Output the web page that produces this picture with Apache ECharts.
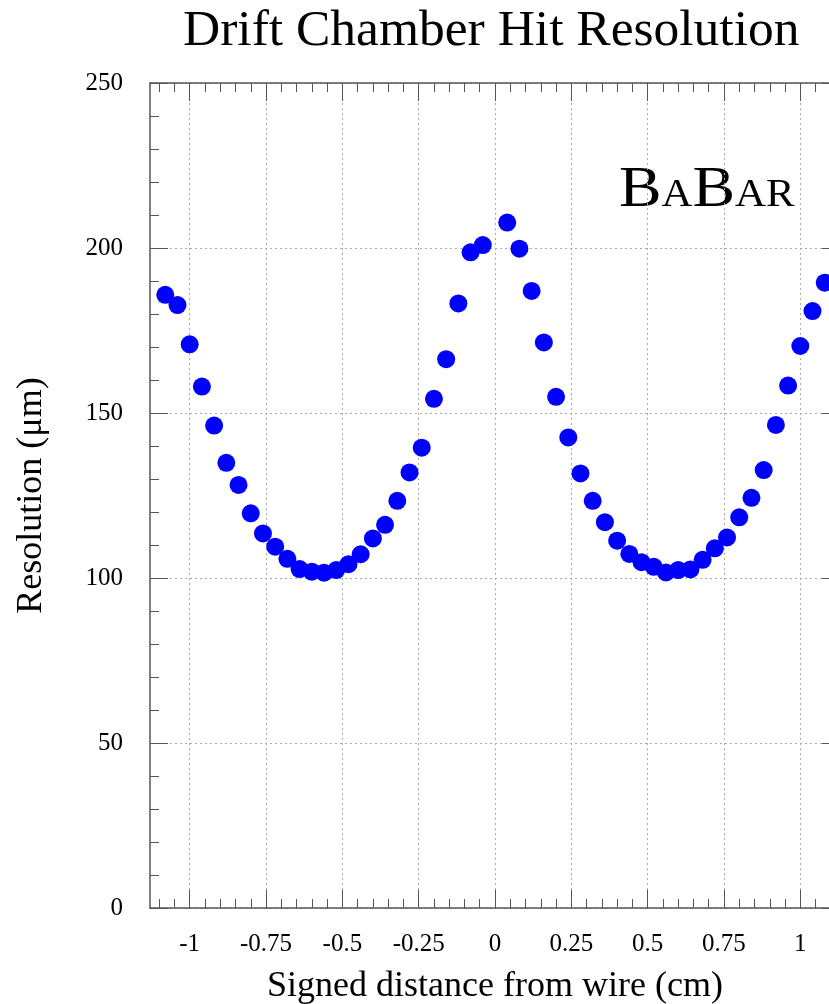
<!DOCTYPE html>
<html>
<head>
<meta charset="utf-8">
<script src="https://cdn.jsdelivr.net/npm/echarts@6/dist/echarts.min.js"></script>
<style>
html,body{margin:0;padding:0;background:#fff;}
#chart{width:829px;height:1004px;}
</style>
</head>
<body>
<div id="chart"></div>
<script>
const distance = [
  -1.08,-1.04,-1.00,-0.96,-0.92,-0.88,-0.84,-0.80,-0.76,-0.72,-0.68,-0.64,-0.60,-0.56,
  -0.52,-0.48,-0.44,-0.40,-0.36,-0.32,-0.28,-0.24,-0.20,-0.16,-0.12,-0.08,-0.04,
  0.04,0.08,0.12,0.16,0.20,0.24,0.28,0.32,0.36,0.40,0.44,0.48,0.52,0.56,0.60,0.64,
  0.68,0.72,0.76,0.80,0.84,0.88,0.92,0.96,1.00,1.04,1.08
];
const resolution = [
  185.8,182.7,170.8,158.0,146.2,134.9,128.2,119.6,113.5,109.5,105.8,102.7,101.9,101.6,
  102.4,104.2,107.2,112.0,116.1,123.4,132.0,139.5,154.3,166.3,183.2,198.7,200.9,
  207.7,199.8,187.0,171.4,154.9,142.6,131.7,123.4,116.9,111.3,107.3,104.8,103.4,101.7,102.4,102.6,
  105.5,109.0,112.3,118.4,124.3,132.7,146.4,158.3,170.3,180.9,189.5
];
const xTickValues = [-1, -0.75, -0.5, -0.25, 0, 0.25, 0.5, 0.75, 1];
const xTickLabels = ['-1','-0.75','-0.5','-0.25','0','0.25','0.5','0.75','1'];
const yTickLabels = ['0','50','100','150','200','250'];

const points = distance.map((d, i) => [d, resolution[i]]);
const FONT = '"Liberation Serif", "DejaVu Serif", serif';

function xLabel(v) {
  let best = -1, bd = 1e9;
  xTickValues.forEach((t, i) => { const d = Math.abs(t - v); if (d < bd) { bd = d; best = i; } });
  return bd < 1e-6 ? xTickLabels[best] : '';
}

const chart = echarts.init(document.getElementById('chart'), null, {renderer: 'canvas'});
const axisLineStyle = {color: '#555', width: 1.5};
const tickStyle = {color: '#555', width: 1};
const gridLine = {show: true, lineStyle: {type: [2, 3], color: '#aaa', width: 1}};

const xCommon = {
  type: 'value', min: -1.13, max: 1.13, minInterval: 0.5, maxInterval: 0.5,
  axisLine: {show: true, onZero: false, lineStyle: axisLineStyle},
  axisTick: {show: true, inside: true, length: 18, lineStyle: tickStyle, customValues: xTickValues},
  minorTick: {show: true, splitNumber: 10, length: 9, lineStyle: tickStyle}
};
const yCommon = {
  type: 'value', min: 0, max: 250, interval: 50,
  axisLine: {show: true, onZero: false, lineStyle: axisLineStyle},
  axisTick: {show: true, inside: true, length: 18, lineStyle: tickStyle},
  minorTick: {show: true, splitNumber: 5, length: 9, lineStyle: tickStyle}
};

chart.setOption({
  animation: false,
  backgroundColor: '#fff',
  title: {
    text: 'Drift Chamber Hit Resolution',
    left: 178, top: 0,
    textStyle: {fontFamily: FONT, fontSize: 51.5, fontWeight: 'normal', color: '#000'}
  },
  graphic: [{
    type: 'text', x: 619, y: 162, scaleX: 1.1,
    style: {
      text: '{b|B}{s|A}{b|B}{s|AR}',
      rich: {
        b: {fontFamily: FONT, fontSize: 58, color: '#000', verticalAlign: 'bottom', lineHeight: 58},
        s: {fontFamily: FONT, fontSize: 39, color: '#000', verticalAlign: 'bottom', lineHeight: 39, padding: [0, 0, 5, 0]}
      }
    }
  }],
  grid: {left: 150, top: 83, right: -11, bottom: 96, containLabel: false, outerBoundsMode: 'none'},
  xAxis: [Object.assign({}, xCommon, {
    position: 'bottom',
    axisLabel: {show: true, customValues: xTickValues, formatter: xLabel, fontFamily: FONT, fontSize: 25, color: '#000', margin: 24},
    splitLine: gridLine,
    name: 'Signed distance from wire (cm)', nameLocation: 'middle', nameGap: 61,
    nameTextStyle: {fontFamily: FONT, fontSize: 36, color: '#000'}
  }), Object.assign({}, xCommon, {
    position: 'top', axisLabel: {show: false}, splitLine: {show: false}
  })],
  yAxis: [Object.assign({}, yCommon, {
    position: 'left',
    axisLabel: {show: true, fontFamily: FONT, fontSize: 25, color: '#000', margin: 27,
      formatter: v => yTickLabels[Math.round(v / 50)] ?? ''},
    splitLine: gridLine,
    name: 'Resolution (\u03bcm)', nameLocation: 'middle', nameGap: 100,
    nameTextStyle: {fontFamily: FONT, fontSize: 36, color: '#000'}
  }), Object.assign({}, yCommon, {
    position: 'right', axisLabel: {show: false}, splitLine: {show: false}
  })],
  series: [{
    type: 'scatter', xAxisIndex: 0, yAxisIndex: 0,
    data: points, symbol: 'circle', symbolSize: 18,
    itemStyle: {color: '#0000ff', opacity: 1},
    clip: true
  }]
});
</script>
</body>
</html>
